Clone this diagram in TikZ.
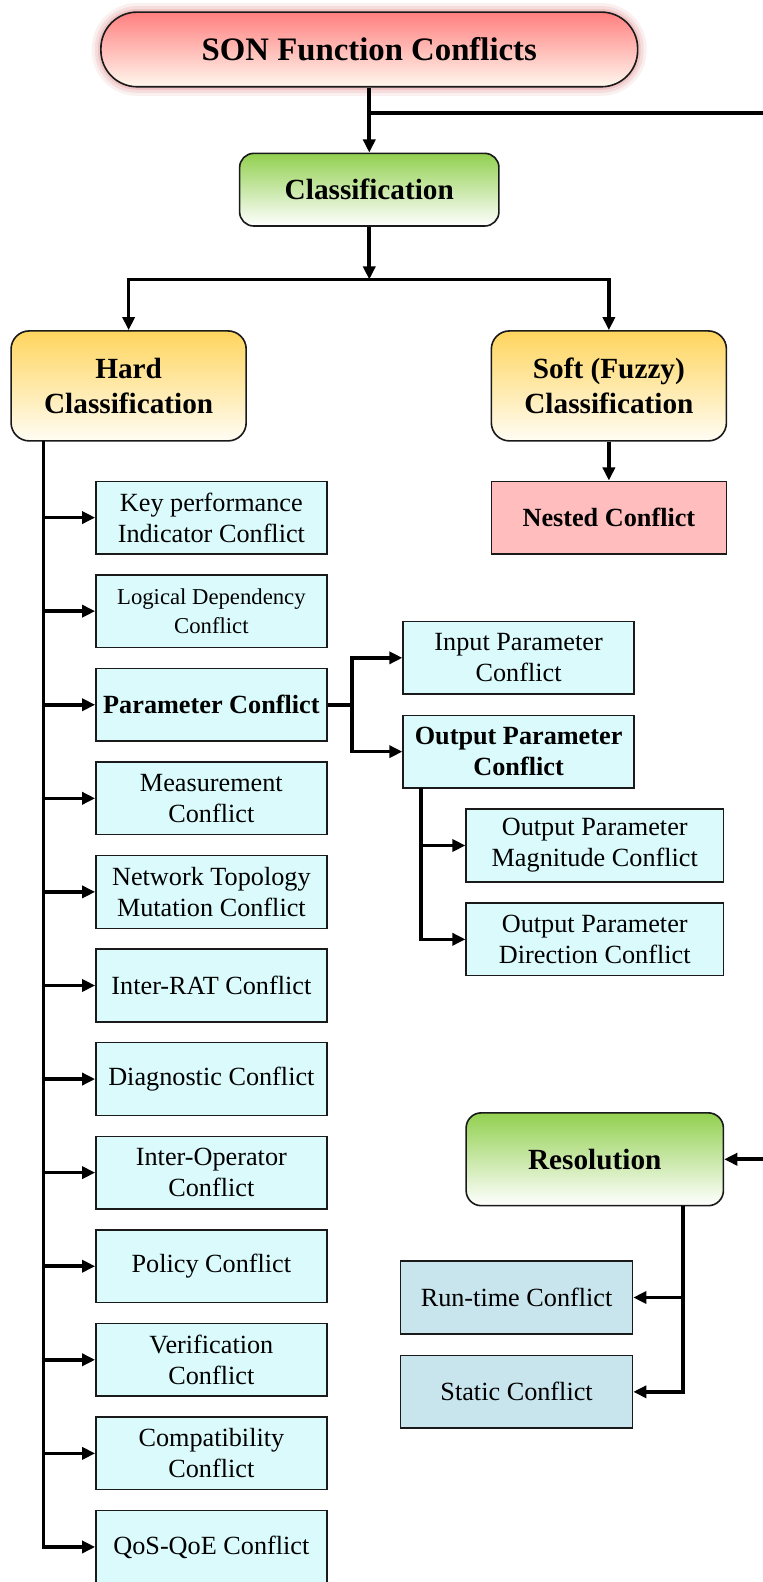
\documentclass[tikz,border=0pt]{standalone}
\usepackage{fontspec}
\setmainfont{Liberation Serif}
\usetikzlibrary{arrows.meta}

\definecolor{cellfill}{HTML}{DAFAFC}
\definecolor{resfill}{HTML}{C8E4EC}
\definecolor{nestfill}{HTML}{FFBDBD}
\definecolor{greentop}{HTML}{92D050}
\definecolor{ambertop}{HTML}{FFD55E}
\definecolor{ambertail}{HTML}{FFFDF4}
\definecolor{rosetop}{HTML}{FF7F7F}
\definecolor{rosetail}{HTML}{FFF8EE}
\definecolor{glowc}{HTML}{D97070}
\definecolor{edgec}{HTML}{1A1A1A}

\tikzset{
  x=1pt, y=1pt,
  boxbase/.style={draw=edgec, inner sep=0pt, align=center, text=black},
  leaf/.style={boxbase, line width=1.4pt, fill=cellfill,
    minimum width=229pt, minimum height=72pt,
    font=\fontsize{26}{31}\selectfont},
  leafsmall/.style={leaf, font=\fontsize{22.5}{28}\selectfont},
  leafbold/.style={leaf, font=\fontsize{26}{31}\selectfont\bfseries},
  subleaf/.style={leaf, minimum width=255pt},
  resleaf/.style={leaf, fill=resfill, minimum width=230pt},
  nestbox/.style={boxbase, line width=1.4pt, fill=nestfill,
    minimum width=233pt, minimum height=72pt,
    font=\fontsize{26}{31}\selectfont\bfseries},
  greenbox/.style={boxbase, line width=1.6pt, rounded corners=14pt,
    top color=greentop, bottom color=white,
    font=\fontsize{29}{35}\selectfont\bfseries},
  amberbox/.style={boxbase, line width=1.6pt, rounded corners=18pt,
    top color=ambertop, bottom color=ambertail,
    minimum width=233pt, minimum height=109pt,
    font=\fontsize{29}{35}\selectfont\bfseries},
  titlebox/.style={boxbase, line width=1.6pt, rounded corners=36pt,
    top color=rosetop, bottom color=rosetail,
    minimum width=532pt, minimum height=74pt,
    font=\fontsize{32.5}{38}\selectfont\bfseries,
    preaction={draw=glowc, line width=18pt, draw opacity=0.10},
    preaction={draw=glowc, line width=12pt, draw opacity=0.14},
    preaction={draw=glowc, line width=6pt, draw opacity=0.22}},
  wire/.style={line width=3.6pt, draw=black},
  conn/.style={wire, -{Triangle[length=13pt,width=12pt]}},
}

\begin{document}
\begin{tikzpicture}
  \useasboundingbox (0,0) rectangle (756,-1568);
  \fill[white] (0,0) rectangle (756,-1568);
  \clip (0,0) rectangle (756,-1568);

  % top of the tree
  \node[titlebox] (son) at (366,-49) {SON Function Conflicts};
  \node[greenbox, minimum width=257pt, minimum height=72pt] (cls) at (366,-188) {Classification};
  \node[amberbox] (hard) at (127.5,-382.5) {Hard\\Classification};
  \node[amberbox] (soft) at (603.5,-382.5) {Soft (Fuzzy)\\Classification};
  \node[nestbox] (nest) at (603.5,-513) {Nested Conflict};

  % hard classification leaves
  \node[leaf]      (b1)  at (209.5,-513)    {Key performance\\Indicator Conflict};
  \node[leafsmall] (b2)  at (209.5,-605.75) {Logical Dependency\\Conflict};
  \node[leafbold]  (b3)  at (209.5,-698.5)  {Parameter Conflict};
  \node[leaf]      (b4)  at (209.5,-791.25) {Measurement\\Conflict};
  \node[leaf]      (b5)  at (209.5,-884)    {Network Topology\\Mutation Conflict};
  \node[leaf]      (b6)  at (209.5,-976.75) {Inter-RAT Conflict};
  \node[leaf]      (b7)  at (209.5,-1069.5) {Diagnostic Conflict};
  \node[leaf]      (b8)  at (209.5,-1162.25){Inter-Operator\\Conflict};
  \node[leaf]      (b9)  at (209.5,-1255)   {Policy Conflict};
  \node[leaf]      (b10) at (209.5,-1347.75){Verification\\Conflict};
  \node[leaf]      (b11) at (209.5,-1440.5) {Compatibility\\Conflict};
  \node[leaf]      (b12) at (209.5,-1533.25){QoS-QoE Conflict};

  % parameter conflict subtree
  \node[leaf]     (inp)  at (514,-652)   {Input Parameter\\Conflict};
  \node[leafbold] (outp) at (514,-745)   {Output Parameter\\Conflict};
  \node[subleaf]  (mag)  at (589.5,-838) {Output Parameter\\Magnitude Conflict};
  \node[subleaf]  (dir)  at (589.5,-931) {Output Parameter\\Direction Conflict};

  % resolution subtree
  \node[greenbox, minimum width=255pt, minimum height=92pt, rounded corners=15pt] (res) at (589.5,-1149) {Resolution};
  \node[resleaf] (run)  at (512,-1286)   {Run-time Conflict};
  \node[resleaf] (stat) at (512,-1379.5) {Static Conflict};

  % junction points
  \coordinate (j0) at (366,-112);
  \coordinate (rt) at (790,-112);
  \coordinate (j1) at (366,-277);
  \coordinate (ht) at (43,-437);
  \coordinate (pj) at (349,-698.5);
  \coordinate (ot) at (417,-781);
  \coordinate (rs) at (677,-1195);

  % connectors
  \draw[conn] (son.south) -- (cls.north);
  \draw[conn] (j0) -- (rt) |- (res.east);
  \draw[conn] (cls.south) -- (j1);
  \draw[conn] (j1) -| (hard.north);
  \draw[conn] (j1) -| (soft.north);
  \draw[conn] (soft.south) -- (nest.north);

  \draw[conn] (ht) |- (b12.west);
  \foreach \b in {b1,b2,b3,b4,b5,b6,b7,b8,b9,b10,b11}
    \draw[conn] (ht |- \b.west) -- (\b.west);

  \draw[wire] (b3.east) -- (pj);
  \draw[conn] (pj) |- (inp.west);
  \draw[conn] (pj) |- (outp.west);
  \draw[conn] (ot) |- (mag.west);
  \draw[conn] (ot) |- (dir.west);

  \draw[conn] (rs) |- (run.east);
  \draw[conn] (rs) |- (stat.east);
\end{tikzpicture}
\end{document}
